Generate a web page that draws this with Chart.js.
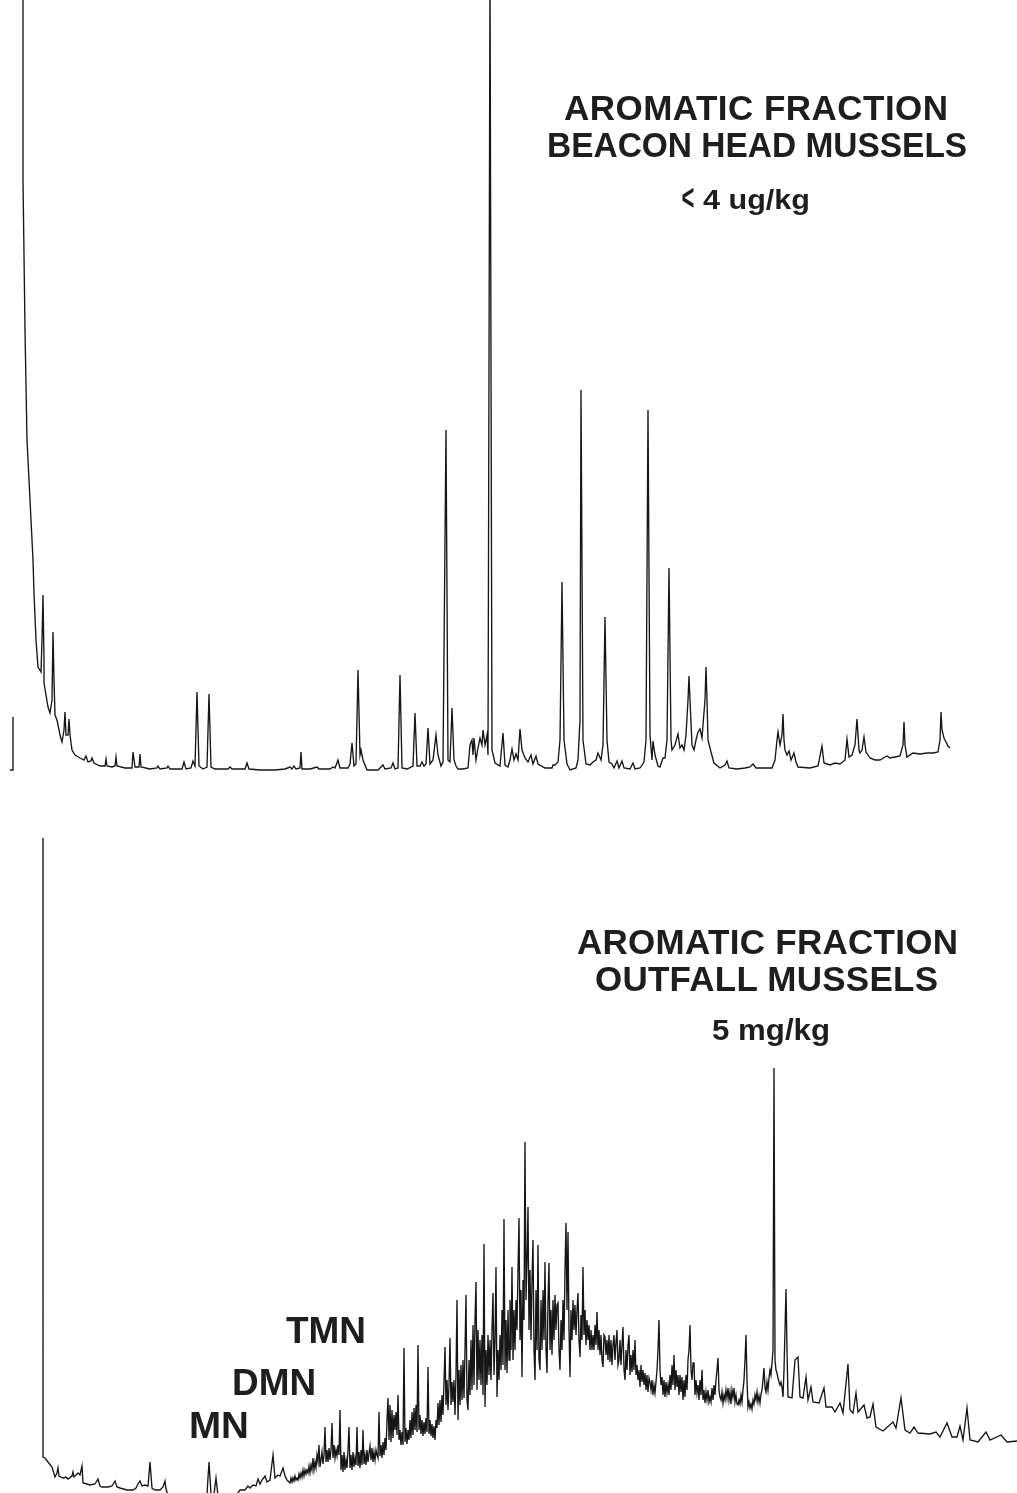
<!DOCTYPE html>
<html>
<head>
<meta charset="utf-8">
<script src="https://cdn.jsdelivr.net/npm/chart.js@4/dist/chart.umd.min.js"></script>
<style>
  html, body { margin: 0; padding: 0; background: #fff; }
  body { width: 1017px; height: 1493px; position: relative; overflow: hidden; }
  .plot { position: absolute; left: 0; }
  .lbl { position: absolute; white-space: nowrap; font-family: "Liberation Sans", Arial, sans-serif;
         font-weight: 700; color: #1e1e1e; line-height: 1; transform-origin: 0 0; }
  .lbl .chev { display: inline-block; transform: scale(0.72, 1.3) translateY(-1px); transform-origin: 30% 60%; margin-right: -3px; }
</style>
</head>
<body>
<div class="plot" style="top:0;width:1017px;height:780px"><canvas id="top" width="1017" height="780"></canvas></div>
<div class="plot" style="top:800px;width:1017px;height:693px"><canvas id="bottom" width="1017" height="693"></canvas></div>
<script>
// ---------- Beacon Head mussels, aromatic fraction: [retention, response] ----------
const beaconPenStart = [[10,0],[13,0],[13,53]];
const beaconSolvent = [[23,800],[23,590],[25,440],[27,330],[30,270],[33,210],[34,177],[36,130],[38,103],[41,98],[42,130],[43,175],[44,110],[44,87],[46,75],[48,63],[50,57],[52,70],[53,138],[54,90],[55,55],[57,50],[60,35],[62,28],[64,40],[65,58],[66,35],[68,35],[69,51],[70,35],[72,20],[75,15],[80,12],[84,10],[86,14],[88,8],[91,9],[92,12],[94,7],[100,4]];
const beaconEarly = [[105,4],[106,11],[107,4],[112,3],[115,4],[116,13],[117,4],[125,2],[132,2],[133,18],[135,3],[139,3],[140,16],[141,3],[150,1],[157,2],[158,4],[160,1],[167,2],[168,4],[170,1],[182,1],[184,8],[186,1],[191,2],[193,9],[195,4],[197,78],[199,4],[203,1],[207,3],[209,76],[211,3],[215,1],[228,1],[230,3],[232,1],[245,1],[247,7],[249,1],[260,0],[275,0],[285,1],[290,3],[292,1],[294,4],[296,1],[300,2],[301,18],[302,1],[310,1],[317,3],[319,1],[330,1]];
const beaconMid = [[333,3],[335,2],[338,10],[340,2],[348,2],[350,6],[352,27],[354,4],[356,6],[358,100],[360,15],[361,20],[363,10],[367,0],[378,0],[383,5],[385,1],[391,2],[393,7],[395,1],[398,2],[400,95],[402,2],[407,1],[413,4],[415,57],[417,4],[420,4],[422,8],[424,4],[426,6],[428,42],[430,6],[433,10],[436,35],[438,15],[441,4],[443,8],[446,340],[448,10],[450,8],[452,62],[454,10],[456,4],[458,1],[463,1],[468,2],[470,25],[472,30],[473,15],[474,32],[476,10],[478,22],[480,32],[482,25],[483,40],[485,25],[487,35],[488,15],[490,800],[492,20],[495,7],[500,4],[503,37],[505,5],[508,3],[510,10],[512,21],[514,10],[516,16],[518,10],[520,41],[522,20],[525,12],[528,8],[531,15],[533,6],[536,14],[538,6],[545,2],[552,2],[553,5],[555,5],[558,8],[560,30],[562,188],[564,30],[567,6],[570,0],[576,2],[578,10],[580,50],[581,380],[583,30],[586,6],[590,5],[593,8],[596,10],[598,17],[601,10],[603,25],[605,153],[607,30],[609,8],[612,6],[614,2],[617,9],[619,2],[622,9],[624,2],[630,1],[633,7],[635,1],[640,2]];
const beaconLate = [[644,8],[646,30],[648,360],[650,35],[652,10],[653,29],[655,15],[658,4],[660,3],[663,12],[665,12],[667,30],[669,202],[671,30],[672,20],[675,25],[678,36],[680,22],[682,25],[684,20],[686,35],[688,70],[689,94],[690,70],[692,25],[694,20],[696,30],[698,38],[700,41],[702,32],[703,45],[705,70],[706,103],[707,70],[708,30],[711,18],[714,7],[720,2],[725,5],[727,9],[729,2],[737,1],[745,2],[750,3],[753,6],[756,2],[765,2],[772,2],[775,10],[777,30],[778,38],[780,25],[782,35],[783,56],[784,30],[785,20],[787,15],[789,19],[791,10],[794,17],[796,8],[798,3],[810,2],[818,4],[822,24],[824,7],[827,6],[830,5],[835,7],[840,6],[845,10],[847,31],[849,13],[852,15],[855,25],[857,51],[859,20],[860,17],[862,20],[864,33],[866,18],[870,12],[875,10],[880,10],[885,13],[887,14],[890,12],[895,13],[900,14],[903,25],[904,48],[905,25],[907,13],[913,17],[920,16],[927,17],[933,17],[938,18],[940,30],[941,58],[942,40],[944,32],[946,28],[948,24],[950,22]];

// ---------- Outfall mussels, aromatic fraction: [retention, response] ----------
const outfallEarly = [[43,662],[43,43],[45,42],[48,38],[52,33],[55,23],[57,27],[58,32],[59,24],[63,22],[66,23],[68,21],[72,24],[73,28],[74,23],[78,27],[80,25],[82,34],[83,17],[87,16],[90,15],[95,16],[98,21],[100,14],[102,13],[108,13],[112,14],[115,19],[117,13],[120,12],[127,10],[133,10],[136,12],[138,16],[140,19],[142,14],[145,15],[148,14],[150,38],[152,12],[155,10],[160,10],[163,13],[165,19],[166,11],[168,5],[175,-5],[190,-5],[205,2],[207,6],[209,38],[211,6],[214,6],[216,22],[218,4],[225,-5],[235,3],[240,10],[245,10],[248,14],[250,12],[253,15],[256,14],[258,21],[260,16],[262,20],[265,24],[267,18],[270,20],[273,45],[275,22],[278,25],[280,24],[283,32],[285,24],[287,20]];
const outfallRise = [[290,17],[291,22],[292,18],[293,22],[294,19],[295,24],[296,20],[297,22],[298,20],[299,26],[300,22],[301,27],[302,23],[303,30],[304,24],[305,30],[306,26],[307,30],[308,27],[309,34],[310,27],[311,35],[312,30],[313,42],[314,30],[315,38],[316,32],[317,45],[318,38],[319,55],[320,33],[321,40],[322,48],[323,36],[324,45],[325,73],[326,38],[327,50],[328,38],[329,52],[330,40],[331,50],[332,77],[333,42],[334,55],[335,42],[336,50],[337,44],[338,55],[339,45]];
const outfallHumpA = [[340,90],[341,30],[342,45],[343,28],[344,48],[345,30],[346,40],[347,32],[348,50],[349,73],[350,32],[351,45],[352,30],[353,48],[354,33],[355,42],[356,35],[357,73],[358,34],[359,48],[360,32],[361,50],[362,35],[363,70],[364,36],[365,45],[366,35],[367,50],[368,38],[369,47],[370,54],[371,40],[372,52],[373,38],[374,48],[375,40],[376,50],[377,45],[378,42],[379,88],[380,44],[381,55],[382,42],[383,58],[384,45],[385,62],[386,50],[387,80],[388,102],[389,60],[390,95],[391,58],[392,90],[393,62],[394,85],[395,70],[396,88],[397,65],[398,105],[399,60],[400,70],[401,55],[402,68],[403,55],[404,152],[405,58],[406,72],[407,56],[408,70],[409,60],[410,80],[411,62],[412,88],[413,65],[414,92],[415,70],[416,95],[417,68],[418,155],[419,70],[420,85],[421,66],[422,80],[423,64],[424,78],[425,66],[426,82],[427,68],[428,133],[429,66],[430,80],[431,64],[432,76],[433,62],[434,74],[435,60],[436,80],[437,72],[438,97],[439,75],[440,100],[441,78],[442,105],[443,85],[444,118],[445,153],[446,95],[447,120],[448,90],[449,115],[450,162],[451,95],[452,118],[453,98],[454,120],[455,85],[456,125],[457,200],[458,80],[459,130],[460,95],[461,135],[462,100],[463,140],[464,102],[465,150],[466,205],[467,100],[468,90],[469,140],[470,105],[471,160],[472,110],[473,175],[474,115],[475,180],[476,218],[477,110],[478,170],[479,120],[480,160],[481,115],[482,165],[483,105],[484,256],[485,93],[486,150],[487,115],[488,165],[489,125]];
const outfallHumpB = [[490,160],[491,120],[492,170],[493,207],[494,125],[495,160],[496,233],[497,103],[498,150],[499,120],[500,165],[501,130],[502,190],[503,135],[504,281],[505,130],[506,180],[507,127],[508,190],[509,140],[510,200],[511,150],[512,233],[513,140],[514,190],[515,150],[516,200],[517,170],[518,230],[519,282],[520,160],[521,210],[522,123],[523,220],[524,180],[525,358],[526,200],[527,240],[528,293],[529,170],[530,230],[531,160],[532,220],[533,260],[534,150],[535,120],[536,210],[537,150],[538,255],[539,140],[540,130],[541,200],[542,150],[543,210],[544,160],[545,238],[546,150],[547,127],[548,200],[549,237],[550,150],[551,190],[552,145],[553,200],[554,160],[555,205],[556,170],[557,195],[558,197],[559,150],[560,130],[561,180],[562,150],[563,200],[564,160],[565,230],[566,277],[567,190],[568,268],[569,170],[570,123],[571,190],[572,160],[573,200],[574,170],[575,195],[576,165],[577,190],[578,207],[579,160],[580,143],[581,185],[582,160],[583,233],[584,165],[585,190],[586,155],[587,180],[588,160],[589,175],[590,150],[591,170],[592,150],[593,165],[594,150],[595,175],[596,155],[597,188],[598,150],[599,170],[600,145],[601,165],[602,140],[603,133],[604,165],[605,163],[606,145],[607,160],[608,140],[609,165],[610,138],[611,160],[612,135],[613,155],[614,165],[615,140],[616,158],[617,170],[618,135],[619,140],[620,160],[621,135],[622,155],[623,173],[624,130],[625,120],[626,150],[627,130],[628,155],[629,165],[630,125],[631,145],[632,128],[633,150],[634,130],[635,160],[636,125],[637,135],[638,120],[639,130],[640,113]];
const outfallShoulder = [[641,135],[642,118],[643,130],[644,115],[645,127],[646,110],[647,125],[648,108],[649,122],[650,118],[651,110],[652,120],[653,105],[654,115],[655,107],[656,118],[657,130],[658,150],[659,180],[660,130],[661,115],[662,123],[663,105],[664,120],[665,103],[666,118],[667,107],[668,115],[669,105],[670,125],[671,110],[672,135],[673,115],[674,145],[675,110],[676,130],[677,113],[678,125],[679,105],[680,125],[681,108],[682,123],[683,100],[684,120],[685,103],[686,125],[687,110],[688,140],[689,150],[690,175],[691,130],[692,120],[693,137],[694,137],[695,105],[696,120],[697,107],[698,115],[699,100],[700,120],[701,105],[702,130],[703,100],[704,110],[705,97],[706,108],[707,100],[708,110],[709,98],[710,103],[711,98],[712,112],[713,100],[714,115],[715,105],[716,120],[717,130],[718,142],[719,110],[720,103],[721,100],[722,108],[723,97],[724,105],[725,100],[726,110],[727,102],[728,112],[729,100],[730,108],[731,96],[732,110],[733,103],[734,112],[735,98],[736,105],[737,96],[738,95],[739,100],[740,96],[741,105],[742,98],[743,110],[744,120],[745,140],[746,165],[747,120],[748,93],[749,98],[750,92],[751,96],[752,91],[753,100],[754,96],[755,105],[756,100],[757,108],[758,98],[759,104],[760,97],[761,106],[762,110],[763,120],[764,132],[765,112],[766,108],[767,118],[768,110],[769,122],[770,130],[771,125],[772,137],[773,150],[774,432],[775,140],[776,130],[777,127],[778,122],[779,118],[780,115],[781,118],[782,113],[783,103],[784,130],[785,170],[786,211],[787,150],[788,103]];
const outfallLate = [[792,102],[795,140],[798,143],[800,103],[803,102],[806,123],[808,100],[811,113],[813,98],[819,97],[824,112],[826,93],[832,93],[835,88],[840,97],[843,87],[848,136],[850,90],[853,87],[856,107],[858,88],[864,95],[867,82],[870,83],[873,96],[876,73],[883,69],[893,78],[896,72],[901,102],[905,70],[910,67],[914,73],[918,67],[930,66],[936,68],[940,63],[947,77],[952,63],[957,63],[960,74],[963,60],[967,92],[970,60],[978,58],[986,68],[990,60],[1001,65],[1007,58],[1017,59]];

// ---------- Text ----------
const topTitle = ["AROMATIC FRACTION", "BEACON HEAD MUSSELS", "4 ug/kg"];
const bottomTitle = ["AROMATIC FRACTION", "OUTFALL MUSSELS", "5 mg/kg"];
const peakLabels = ["TMN", "DMN", "MN"];

const toPts = (arr) => arr.map(([x, y]) => ({ x, y }));
const lineDs = (arr) => ({ data: toPts(arr), borderColor: '#161616', borderWidth: 1.35, pointRadius: 0, tension: 0, fill: false });

function makeChart(id, datasets, yMin, yMax) {
  return new Chart(document.getElementById(id), {
    type: 'line',
    data: { datasets },
    options: {
      animation: false, responsive: false, maintainAspectRatio: false,
      layout: { padding: 0 },
      plugins: { legend: { display: false }, tooltip: { enabled: false }, title: { display: false } },
      scales: {
        x: { type: 'linear', display: false, min: 0, max: 1017 },
        y: { type: 'linear', display: false, min: yMin, max: yMax }
      }
    }
  });
}

makeChart('top', [
  lineDs(beaconPenStart),
  lineDs([].concat(beaconSolvent, beaconEarly, beaconMid, beaconLate))
], -10, 770);

makeChart('bottom', [
  lineDs([].concat(outfallEarly, outfallRise, outfallHumpA, outfallHumpB, outfallShoulder, outfallLate))
], 7, 700);

// label layout: [text, left, capTop, targetWidth, fontSize, leadingChevron, useSpacing]
const layout = [
  [topTitle[0], 564, 95, 384, 35, false, true],
  [topTitle[1], 547, 132, 420, 35, false, true],
  [topTitle[2], 680, 190, 130, 28, true, false],
  [bottomTitle[0], 577, 929, 381, 35, false, true],
  [bottomTitle[1], 595, 966, 343, 35, false, true],
  [bottomTitle[2], 712, 1020, 118, 29, false, false],
  [peakLabels[0], 286, 1318, 80, 36, false, false],
  [peakLabels[1], 232, 1370, 84, 36, false, false],
  [peakLabels[2], 189, 1413, 60, 36, false, false]
];
for (const [t, x, capTop, w, fs, chev, spacing] of layout) {
  const d = document.createElement('div');
  d.className = 'lbl';
  if (chev) {
    const s = document.createElement('span');
    s.className = 'chev';
    s.textContent = '<';
    d.appendChild(s);
    d.appendChild(document.createTextNode(' ' + t));
  } else {
    d.textContent = t;
  }
  d.style.fontSize = fs + 'px';
  d.style.left = x + 'px';
  d.style.top = (capTop - 0.13 * fs) + 'px';
  document.body.appendChild(d);
  const natural = d.getBoundingClientRect().width;
  if (spacing && natural < w) {
    const n = d.textContent.length;
    d.style.letterSpacing = ((w - natural) / Math.max(1, n - 1)).toFixed(2) + 'px';
    const again = d.getBoundingClientRect().width;
    if (Math.abs(again - w) > 1) d.style.transform = 'scaleX(' + (w / again).toFixed(3) + ')';
  } else {
    d.style.transform = 'scaleX(' + (w / natural).toFixed(3) + ')';
  }
}
</script>
</body>
</html>
